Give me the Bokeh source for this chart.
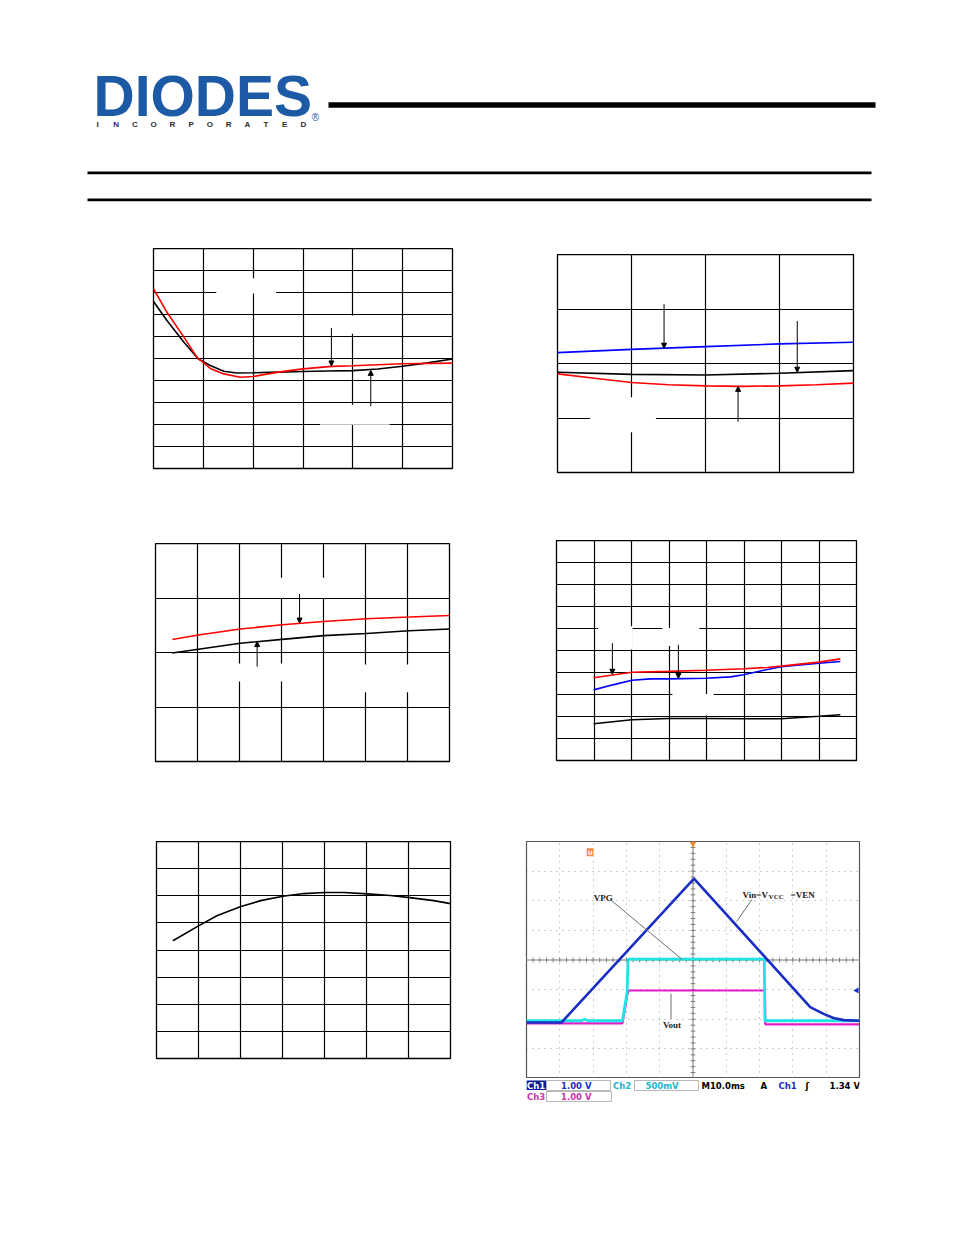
import numpy as np
from bokeh.plotting import figure
from bokeh.models import Range1d, Grid, FixedTicker, Arrow, NormalHead, ColumnDataSource, Spacer
from bokeh.layouts import column, row
from bokeh.embed import file_html
from bokeh.resources import INLINE
from bokeh.core.properties import value

# ---------------- header ----------------
logo_text = "DIODES"
logo_sub = list("INCORPORATED")
logo_blue = "#1c5aa5"

# ---------------- chart 1 (top left) ----------------
c1_xticks = [0, 1, 2, 3, 4, 5, 6]
c1_yticks = list(range(11))
c1_black_x = [0.0, 0.27, 0.61, 0.9, 1.14, 1.41, 1.67, 2.0, 2.5, 3.0, 3.5, 4.0, 4.5, 5.0, 5.5, 6.0]
c1_black_y = [7.59, 6.73, 5.74, 4.98, 4.68, 4.42, 4.34, 4.35, 4.38, 4.41, 4.43, 4.45, 4.52, 4.65, 4.8, 4.98]
c1_red_x = [0.0, 0.27, 0.61, 0.87, 1.14, 1.41, 1.74, 2.0, 2.5, 3.0, 3.57, 4.0, 5.0, 6.0]
c1_red_y = [8.17, 7.1, 5.97, 5.06, 4.55, 4.3, 4.15, 4.18, 4.38, 4.53, 4.64, 4.67, 4.76, 4.79]
c1_arrows = dict(x0=[3.57, 4.36], y0=[6.38, 2.83], x1=[3.57, 4.36], y1=[4.66, 4.46])
c1_blank = dict(left=[1.26, 3.34, 3.34], right=[2.46, 4.74, 4.74],
                bottom=[7.95, 6.12, 1.99], top=[8.65, 6.95, 2.9])

# ---------------- chart 2 (top right) ----------------
c2_xticks = [0, 1, 2, 3, 4]
c2_yticks = [0, 1, 2, 3, 4]
c2_blue_x = [0, 1, 2, 3, 4]
c2_blue_y = [2.2, 2.26, 2.31, 2.36, 2.39]
c2_black_x = [0, 1, 2, 3, 4]
c2_black_y = [1.84, 1.8, 1.79, 1.82, 1.87]
c2_red_x = [0, 0.5, 1, 1.5, 2, 2.5, 3, 3.5, 4]
c2_red_y = [1.81, 1.73, 1.65, 1.61, 1.59, 1.58, 1.59, 1.61, 1.64]
c2_arrows = dict(x0=[1.44, 3.24, 2.44], y0=[3.09, 2.78, 0.93], x1=[1.44, 3.24, 2.44], y1=[2.28, 1.84, 1.58])
c2_blank = dict(left=[0.44], right=[1.33], bottom=[0.74], top=[1.38])

# ---------------- chart 3 (middle left) ----------------
c3_xticks = [0, 1, 2, 3, 4, 5, 6, 7]
c3_yticks = [0, 1, 2, 3, 4]
c3_x = [0.4, 1.02, 2.02, 3.02, 4.0, 5.02, 6.04, 7.0]
c3_red_y = [2.24, 2.32, 2.43, 2.51, 2.57, 2.62, 2.65, 2.68]
c3_black_y = [1.99, 2.06, 2.17, 2.24, 2.31, 2.35, 2.4, 2.43]
c3_arrows = dict(x0=[3.43, 2.42], y0=[3.07, 1.74], x1=[3.43, 2.42], y1=[2.54, 2.2])
c3_blank = dict(left=[2.5, 1.43, 4.52], right=[4.52, 3.57, 6.55],
                bottom=[3.0, 1.47, 1.27], top=[3.37, 1.8, 1.78])

# ---------------- chart 4 (middle right) ----------------
c4_xticks = [0, 1, 2, 3, 4, 5, 6, 7, 8]
c4_yticks = list(range(11))
c4_red_x = [0.99, 2.01, 2.99, 3.98, 4.99, 5.62, 5.99, 7.0, 7.57]
c4_red_y = [3.76, 4.01, 4.05, 4.1, 4.17, 4.23, 4.29, 4.47, 4.62]
c4_blue_x = [0.99, 1.53, 2.01, 2.51, 2.99, 3.98, 4.64, 4.99, 5.53, 5.99, 7.0, 7.57]
c4_blue_y = [3.21, 3.45, 3.65, 3.71, 3.71, 3.74, 3.8, 3.9, 4.1, 4.26, 4.42, 4.5]
c4_black_x = [0.99, 2.01, 2.99, 3.98, 4.99, 5.99, 7.0, 7.57]
c4_black_y = [1.67, 1.85, 1.91, 1.91, 1.9, 1.9, 2.01, 2.08]
c4_arrows = dict(x0=[1.49, 3.25], y0=[5.33, 5.26], x1=[1.49, 3.25], y1=[3.92, 3.73])
c4_blank = dict(left=[1.11, 2.82, 3.09], right=[2.03, 3.81, 4.19],
                bottom=[5.05, 5.2, 2.05], top=[6.1, 6.02, 3.02])

# ---------------- chart 5 (bottom left) ----------------
c5_xticks = [0, 1, 2, 3, 4, 5, 6, 7]
c5_yticks = [0, 1, 2, 3, 4, 5, 6, 7, 8]
c5_x = [0.39, 1.01, 1.45, 2.01, 2.48, 3.01, 3.51, 4.01, 4.46, 5.02, 5.57, 6.03, 6.6, 7.0]
c5_y = [4.34, 4.9, 5.27, 5.6, 5.82, 5.98, 6.08, 6.12, 6.12, 6.07, 6.01, 5.93, 5.82, 5.71]

# ---------------- scope capture (bottom right), in divisions ----------------
sc_dot_x = [1, 2, 3, 4, 6, 7, 8, 9]
sc_dot_y = [1, 2, 3, 5, 6, 7]
ch1_t = [0.0, 1.05, 5.03, 8.52, 8.92, 9.22, 9.53, 10.0]
ch1_v = [1.89, 1.89, 6.75, 2.41, 2.18, 2.04, 1.97, 1.95]
ch2_t = [0.0, 1.65, 1.75, 1.85, 2.88, 3.02, 3.05, 7.14, 7.16, 10.0]
ch2_v = [1.95, 1.95, 2.0, 1.95, 1.95, 2.9, 4.03, 4.03, 1.95, 1.95]
ch3_t = [0.0, 2.88, 2.95, 3.02, 3.07, 7.16, 7.17, 10.0]
ch3_v = [1.86, 1.86, 2.3, 2.8, 2.97, 2.97, 1.83, 1.83]
sc_lead = dict(x0=[2.57, 6.77, 4.34], y0=[5.99, 6.04, 2.86], x1=[4.67, 6.31, 4.34], y1=[4.02, 5.3, 2.01])

st_text = ["Ch1", "1.00 V", "Ch2", "500mV", "M10.0ms", "A", "Ch1", "\u0283", "1.34 V", "Ch3", "1.00 V"]
st_color = ["white", "#1a2fc0", "#22b5c8", "#22b5c8", "black", "black", "#1a2fc0", "black", "black", "#cc33aa", "#cc33aa"]
st_row = [0, 0, 0, 0, 0, 0, 0, 0, 0, 1, 1]
st_x = [526.5, 560.5, 612.5, 645.0, 701.0, 760.0, 778.0, 805.0, 829.0, 526.5, 560.5]

RED, BLUE = "#ff0000", "#0000ff"
M = 8  # page margin is not applied by the template, so shift everything by hand


def chart(w, rowh, left, top, fw, fh, xt, yt):
    """Figure whose frame sits `top` px below the row top; a spacer supplies that offset."""
    p = figure(width=w, height=rowh - top, title=None,
               x_range=Range1d(xt[0], xt[-1]), y_range=Range1d(yt[0], yt[-1]),
               x_axis_type=None, y_axis_type=None, toolbar_location=None, output_backend="svg",
               min_border_left=left, min_border_right=w - left - fw,
               min_border_top=0, min_border_bottom=rowh - top - fh)
    p.outline_line_color = "black"
    p.outline_line_width = 1.3
    for dim, t in ((0, xt), (1, yt)):
        p.add_layout(Grid(dimension=dim, ticker=FixedTicker(ticks=t),
                          grid_line_color="black", grid_line_width=1.2))
    return p


def placed(p, top):
    return column(Spacer(width=p.width, height=top), p)


def blanks(p, d):
    p.quad(left=d["left"], right=d["right"], bottom=d["bottom"], top=d["top"],
           fill_color="white", line_color=None)


def arrows(p, d):
    src = ColumnDataSource(d)
    p.add_layout(Arrow(end=NormalHead(size=5, fill_color="black", line_color="black", line_width=1),
                       x_start="x0", y_start="y0", x_end="x1", y_end="y1", source=src,
                       line_color="black", line_width=1))


# ---------- header (page coordinates) ----------
hd = figure(width=946, height=225, title=None, x_range=Range1d(0, 946), y_range=Range1d(225, 0),
            x_axis_type=None, y_axis_type=None, toolbar_location=None, output_backend="svg",
            min_border=0)
hd.outline_line_color = None
hd.text(x=[93], y=[95], text=[logo_text], text_font=value("Liberation Sans"), text_font_style="bold",
        text_font_size="57px", text_color=logo_blue, text_baseline="middle", text_align="left")
hd.text(x=list(np.linspace(97, 303, len(logo_sub))), y=[124] * len(logo_sub), text=logo_sub,
        text_font=value("Liberation Sans"), text_font_style="bold", text_font_size="8px",
        text_color="#2e2e2e", text_baseline="middle", text_align="center")
hd.text(x=[315], y=[117], text=["\u00ae"], text_font=value("Liberation Sans"), text_font_size="10px",
        text_color=logo_blue, text_baseline="middle", text_align="center")
hd.segment(x0=[328], y0=[104.5], x1=[875], y1=[104.5], line_color="black", line_width=5.3)
hd.segment(x0=[87, 87], y0=[172.3, 199.3], x1=[871, 871], y1=[172.3, 199.3], line_color="black", line_width=2.7)

# ---------- chart 1 ----------
c1 = chart(469 + M, 275, 145 + M, 23, 299, 220, c1_xticks, c1_yticks)
blanks(c1, c1_blank)
c1.line(c1_black_x, c1_black_y, line_color="black", line_width=1.6)
c1.line(c1_red_x, c1_red_y, line_color=RED, line_width=1.6)
arrows(c1, c1_arrows)

# ---------- chart 2 ----------
c2 = chart(469, 275, 80, 29, 296, 218, c2_xticks, c2_yticks)
blanks(c2, c2_blank)
c2.line(c2_blue_x, c2_blue_y, line_color=BLUE, line_width=1.6)
c2.line(c2_black_x, c2_black_y, line_color="black", line_width=1.6)
c2.line(c2_red_x, c2_red_y, line_color=RED, line_width=1.6)
arrows(c2, c2_arrows)

# ---------- chart 3 ----------
c3 = chart(469 + M, 300, 147 + M, 43, 294, 218, c3_xticks, c3_yticks)
blanks(c3, c3_blank)
c3.line(c3_x, c3_red_y, line_color=RED, line_width=1.6)
c3.line(c3_x, c3_black_y, line_color="black", line_width=1.6)
arrows(c3, c3_arrows)

# ---------- chart 4 ----------
c4 = chart(469, 300, 79, 40, 300, 220, c4_xticks, c4_yticks)
blanks(c4, c4_blank)
c4.line(c4_black_x, c4_black_y, line_color="black", line_width=1.6)
c4.line(c4_blue_x, c4_blue_y, line_color=BLUE, line_width=1.6)
c4.line(c4_red_x, c4_red_y, line_color=RED, line_width=1.6)
arrows(c4, c4_arrows)

# ---------- chart 5 ----------
c5 = chart(469 + M, 310, 148 + M, 41, 294, 217, c5_xticks, c5_yticks)
c5.line(c5_x, c5_y, line_color="black", line_width=1.6)

# ---------- scope ----------
SC_L, SC_R = 49, 87
sc = figure(width=469, height=237, title=None, x_range=Range1d(0, 10), y_range=Range1d(0, 8),
            x_axis_type=None, y_axis_type=None, toolbar_location=None, output_backend="svg",
            min_border_left=SC_L, min_border_right=SC_R, min_border_top=0, min_border_bottom=0)
sc.outline_line_color = "#555555"
sc.outline_line_width = 1.2
for dim, t in ((0, sc_dot_x), (1, sc_dot_y)):
    sc.add_layout(Grid(dimension=dim, ticker=FixedTicker(ticks=t), grid_line_color="#9a9a9a",
                       grid_line_width=1, grid_line_dash="1 5"))
sc.segment(x0=[0, 5], y0=[4, 0], x1=[10, 5], y1=[4, 8], line_color="#7a7a7a", line_width=1)
tx = np.arange(0, 10.01, 0.2)
ty = np.arange(0, 8.01, 0.2)
sc.segment(x0=tx, y0=[3.92] * len(tx), x1=tx, y1=[4.08] * len(tx), line_color="#7a7a7a", line_width=1)
sc.segment(x0=[4.93] * len(ty), y0=ty, x1=[5.07] * len(ty), y1=ty, line_color="#7a7a7a", line_width=1)
sc.line(ch3_t, ch3_v, line_color="#e21cc8", line_width=2.2)
sc.line(ch2_t, ch2_v, line_color="#1fe3e6", line_width=2.8)
sc.line(ch1_t, ch1_v, line_color="#1a2ec4", line_width=2.6)
sc.segment(x0=sc_lead["x0"], y0=sc_lead["y0"], x1=sc_lead["x1"], y1=sc_lead["y1"],
           line_color="#6e6e6e", line_width=1)
sc_font = value("Liberation Serif")
sc.text(x=[2.02], y=[6.1], text=["VPG"], text_font=sc_font, text_font_style="bold", text_font_size="9px",
        text_color="#222222", text_baseline="middle", text_align="left")
sc.text(x=[6.49], y=[6.21], text=["Vin=V"], text_font=sc_font, text_font_style="bold", text_font_size="9px",
        text_color="#222222", text_baseline="middle", text_align="left")
sc.text(x=[7.27], y=[6.14], text=["VCC"], text_font=sc_font, text_font_style="bold", text_font_size="7px",
        text_color="#222222", text_baseline="middle", text_align="left")
sc.text(x=[7.93], y=[6.21], text=["=VEN"], text_font=sc_font, text_font_style="bold", text_font_size="9px",
        text_color="#222222", text_baseline="middle", text_align="left")
sc.text(x=[4.37], y=[1.82], text=["Vout"], text_font=sc_font, text_font_style="bold", text_font_size="9px",
        text_color="#222222", text_baseline="middle", text_align="center")
sc.rect(x=[1.91], y=[7.64], width=0.2, height=0.27, fill_color="#f08a2c", line_color=None)
sc.text(x=[1.91], y=[7.63], text=["U"], text_font=value("DejaVu Sans"), text_font_style="bold",
        text_font_size="6px", text_color="white", text_baseline="middle", text_align="center")
sc.scatter(x=[5.0], y=[7.93], marker="inverted_triangle", size=7, fill_color="#f08a2c", line_color=None)
sc.scatter(x=[9.92], y=[2.97], marker="triangle", angle=np.pi / 2, size=6, fill_color="#1a2ec4", line_color=None)

# ---------- scope status bar (page coordinates; frame aligned with the scope frame 526..859) ----------
st = figure(width=469, height=32, title=None, x_range=Range1d(526, 859), y_range=Range1d(1110, 1078),
            x_axis_type=None, y_axis_type=None, toolbar_location=None, output_backend="svg",
            min_border_left=SC_L, min_border_right=SC_R, min_border_top=0, min_border_bottom=0)
st.outline_line_color = None
st.quad(left=[546, 634, 546], right=[610, 698, 611], top=[1080, 1080, 1091], bottom=[1090, 1090, 1101],
        fill_color="white", line_color="#b8b8b8", line_width=1)
st.quad(left=[526], right=[545.5], top=[1080], bottom=[1089.5], fill_color="#0d1b8c", line_color=None)
row_y = [1085, 1096]
st.text(x=st_x, y=[row_y[r] for r in st_row], text=st_text, text_color=st_color,
        text_font=value("DejaVu Sans"), text_font_style="bold", text_font_size="8.5px",
        text_baseline="middle", text_align="left")

layout = column(
    hd,
    row(placed(c1, 23), placed(c2, 29)),
    row(placed(c3, 43), placed(c4, 40)),
    row(placed(c5, 41), column(Spacer(width=469, height=41), sc, st)),
)
open("out.html", "w").write(file_html(layout, INLINE))
